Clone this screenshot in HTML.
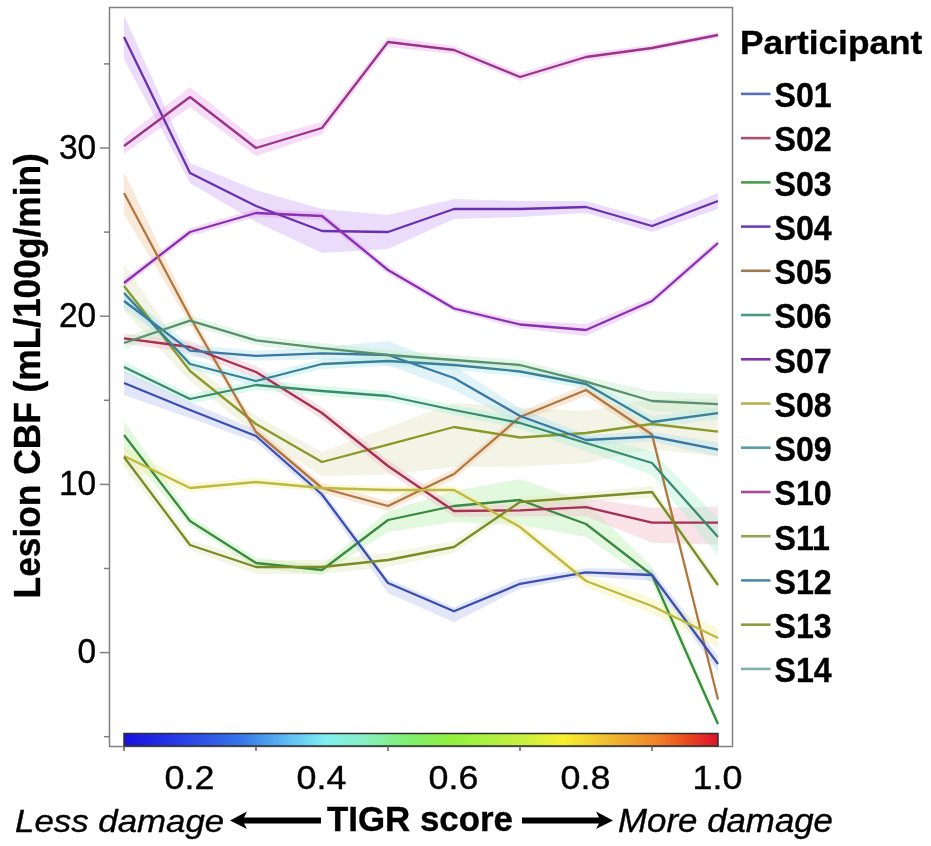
<!DOCTYPE html>
<html><head><meta charset="utf-8">
<style>
html,body{margin:0;padding:0;background:#fff;width:931px;height:846px;overflow:hidden}
svg{position:absolute;left:0;top:0;filter:blur(0.45px)}
text{font-family:"Liberation Sans",sans-serif;fill:#000;stroke:#000;stroke-width:0.35px}
.b{font-weight:bold}
.i{font-style:italic}
</style></head><body>
<svg width="931" height="846" viewBox="0 0 931 846">
<defs>
<linearGradient id="jet" x1="0" x2="1" y1="0" y2="0">
<stop offset="0" stop-color="#1810e0"/>
<stop offset="0.1" stop-color="#2840e8"/>
<stop offset="0.2" stop-color="#3878e8"/>
<stop offset="0.28" stop-color="#60c0f4"/>
<stop offset="0.34" stop-color="#80f0f0"/>
<stop offset="0.40" stop-color="#88f0c8"/>
<stop offset="0.47" stop-color="#80f078"/>
<stop offset="0.55" stop-color="#90f040"/>
<stop offset="0.67" stop-color="#c8f040"/>
<stop offset="0.74" stop-color="#f8f030"/>
<stop offset="0.81" stop-color="#f0c030"/>
<stop offset="0.90" stop-color="#f08028"/>
<stop offset="0.95" stop-color="#e84820"/>
<stop offset="1" stop-color="#e0102c"/>
</linearGradient>
<clipPath id="pc"><rect x="110" y="8" width="622" height="738"/></clipPath>
</defs>
<g clip-path="url(#pc)">
<polygon points="124,264.0 190,361.0 256,416.0 322,452.0 388,427.6 454,403.0 520,407.5 586,411.0 652,399.0 718,398.6 718,456.6 652,449.0 586,463.0 520,466.5 454,467.0 388,474.6 322,476.0 256,434.0 190,381.0 124,311.0" fill="#e0e0c0" fill-opacity="0.4"/>
<polygon points="124,421.0 190,516.0 256,558.0 322,565.0 388,511.0 454,491.0 520,479.0 586,502.0 652,567.0 718,719.0 718,729.0 652,583.0 586,537.0 520,525.0 454,522.0 388,532.0 322,575.0 256,568.0 190,526.0 124,449.0" fill="#b8f0b0" fill-opacity="0.4"/>
<polygon points="124,15.0 190,163.0 256,190.0 322,209.0 388,215.0 454,199.0 520,201.0 586,201.0 652,220.0 718,193.0 718,209.0 652,232.0 586,213.0 520,217.0 454,219.0 388,249.0 322,253.0 256,222.0 190,183.0 124,59.0" fill="#d0a8f4" fill-opacity="0.4"/>
<polygon points="124,138.0 190,87.0 256,140.0 322,122.0 388,37.0 454,46.0 520,73.0 586,53.0 652,45.0 718,32.0 718,38.0 652,51.0 586,61.0 520,81.0 454,54.0 388,47.0 322,134.0 256,156.0 190,107.0 124,154.0" fill="#e8a8e8" fill-opacity="0.4"/>
<polygon points="124,279.0 190,228.0 256,209.0 322,212.0 388,266.0 454,305.5 520,320.5 586,324.0 652,297.0 718,239.0 718,247.0 652,305.0 586,336.0 520,328.5 454,311.5 388,274.0 322,220.0 256,217.0 190,236.0 124,287.0" fill="#dca8f0" fill-opacity="0.4"/>
<polygon points="124,172.0 190,310.0 256,427.0 322,483.0 388,501.0 454,469.0 520,412.0 586,384.0 652,429.5 718,695.5 718,703.5 652,439.5 586,396.0 520,422.0 454,479.0 388,511.0 322,493.0 256,437.0 190,324.0 124,214.0" fill="#f0c8a0" fill-opacity="0.4"/>
<polygon points="124,371.0 190,402.0 256,430.0 322,489.5 388,579.0 454,607.3 520,578.8 586,568.3 652,569.0 718,656.0 718,672.0 652,581.0 586,576.3 520,588.8 454,622.3 388,593.0 322,499.5 256,442.0 190,418.0 124,395.0" fill="#b8c0f0" fill-opacity="0.4"/>
<polygon points="124,333.4 190,341.0 256,366.0 322,407.0 388,460.0 454,505.0 520,504.4 586,498.2 652,507.7 718,506.7 718,544.7 652,542.7 586,516.2 520,516.4 454,517.0 388,472.0 322,419.0 256,378.0 190,353.0 124,343.4" fill="#f0b8c8" fill-opacity="0.4"/>
<polygon points="124,446.0 190,483.0 256,478.0 322,484.0 388,486.0 454,486.0 520,522.0 586,575.0 652,598.0 718,628.0 718,648.0 652,614.0 586,587.0 520,532.0 454,494.0 388,494.0 322,492.0 256,486.0 190,493.0 124,466.0" fill="#f0f0a8" fill-opacity="0.4"/>
<polygon points="124,447.0 190,540.0 256,560.0 322,560.0 388,553.0 454,541.0 520,497.0 586,492.0 652,486.0 718,579.0 718,591.0 652,498.0 586,502.0 520,507.0 454,553.0 388,567.0 322,574.0 256,574.0 190,550.0 124,467.0" fill="#e0e8b8" fill-opacity="0.4"/>
<polygon points="124,361.0 190,394.0 256,380.0 322,386.0 388,391.0 454,405.0 520,417.0 586,435.0 652,451.0 718,518.0 718,556.0 652,475.0 586,451.0 520,429.0 454,415.0 388,401.0 322,396.0 256,390.0 190,404.0 124,373.0" fill="#b0f0d8" fill-opacity="0.4"/>
<polygon points="124,293.0 190,344.7 256,350.8 322,347.3 388,341.0 454,366.0 520,408.0 586,435.0 652,431.5 718,442.6 718,456.6 652,441.5 586,445.0 520,424.0 454,390.0 388,365.0 322,359.3 256,360.8 190,356.7 124,309.0" fill="#b0e0f0" fill-opacity="0.4"/>
<polygon points="124,285.0 190,359.0 256,376.0 322,359.0 388,356.0 454,360.0 520,366.5 586,379.0 652,416.0 718,407.2 718,419.2 652,428.0 586,389.0 520,376.5 454,370.0 388,366.0 322,369.0 256,386.0 190,369.0 124,301.0" fill="#b0e8e8" fill-opacity="0.4"/>
<polygon points="124,337.0 190,315.6 256,335.4 322,343.1 388,350.0 454,355.0 520,360.0 586,376.7 652,391.0 718,394.2 718,414.2 652,411.0 586,386.7 520,370.0 454,365.0 388,360.0 322,353.1 256,345.4 190,325.6 124,349.0" fill="#c0ecc8" fill-opacity="0.4"/>
<polyline points="124,286 190,371 256,424 322,462 388,444.6 454,427 520,437.5 586,433 652,424 718,431.6" fill="none" stroke="#8a9a28" stroke-width="2.3" stroke-linejoin="round"/>
<polyline points="124,435 190,521 256,563 322,570 388,520 454,506 520,500 586,524 652,575 718,724" fill="none" stroke="#3a8a40" stroke-width="2.3" stroke-linejoin="round"/>
<polyline points="124,37 190,173 256,206 322,231 388,232 454,209 520,209 586,207 652,226 718,201" fill="none" stroke="#6a30b0" stroke-width="2.3" stroke-linejoin="round"/>
<polyline points="124,146 190,97 256,148 322,128 388,42 454,50 520,77 586,57 652,48 718,35" fill="none" stroke="#9a3488" stroke-width="2.3" stroke-linejoin="round"/>
<polyline points="124,283 190,232 256,213 322,216 388,270 454,308.5 520,324.5 586,330 652,301 718,243" fill="none" stroke="#8a30b0" stroke-width="2.3" stroke-linejoin="round"/>
<polyline points="124,193 190,317 256,432 322,488 388,506 454,474 520,417 586,390 652,434.5 718,699.5" fill="none" stroke="#b07840" stroke-width="2.3" stroke-linejoin="round"/>
<polyline points="124,383 190,410 256,436 322,494.5 388,583 454,611.3 520,583.8 586,572.3 652,575 718,664" fill="none" stroke="#3a50b0" stroke-width="2.3" stroke-linejoin="round"/>
<polyline points="124,338.4 190,347 256,372 322,413 388,466 454,511 520,510.4 586,507.2 652,522.7 718,522.7" fill="none" stroke="#a83050" stroke-width="2.3" stroke-linejoin="round"/>
<polyline points="124,456 190,488 256,482 322,488 388,490 454,490 520,527 586,581 652,606 718,638" fill="none" stroke="#c0b840" stroke-width="2.3" stroke-linejoin="round"/>
<polyline points="124,457 190,545 256,567 322,567 388,560 454,547 520,502 586,497 652,492 718,585" fill="none" stroke="#7a8a28" stroke-width="2.3" stroke-linejoin="round"/>
<polyline points="124,367 190,399 256,385 322,391 388,396 454,410 520,423 586,443 652,463 718,537" fill="none" stroke="#3a8a70" stroke-width="2.3" stroke-linejoin="round"/>
<polyline points="124,301 190,350.7 256,355.8 322,353.3 388,355 454,378 520,416 586,440 652,436.5 718,449.6" fill="none" stroke="#3a78a0" stroke-width="2.3" stroke-linejoin="round"/>
<polyline points="124,293 190,364 256,381 322,364 388,361 454,365 520,371.5 586,384 652,422 718,413.2" fill="none" stroke="#3a8098" stroke-width="2.3" stroke-linejoin="round"/>
<polyline points="124,343 190,320.6 256,340.4 322,348.1 388,355 454,360 520,365 586,381.7 652,401 718,404.2" fill="none" stroke="#5a9070" stroke-width="2.3" stroke-linejoin="round"/>
</g>
<rect x="109.5" y="7.5" width="623" height="739" fill="none" stroke="#808080" stroke-width="1.5"/>
<rect x="124" y="733.5" width="594" height="12.5" fill="url(#jet)" stroke="#303030" stroke-width="1.5"/>
<line x1="100" y1="148.0" x2="109.5" y2="148.0" stroke="#808080" stroke-width="1.5"/>
<text transform="translate(96.2,158.60) scale(0.986,1.052)" text-anchor="end" font-size="34">30</text>
<line x1="100" y1="316.2" x2="109.5" y2="316.2" stroke="#808080" stroke-width="1.5"/>
<text transform="translate(96.2,326.80) scale(0.986,1.052)" text-anchor="end" font-size="34">20</text>
<line x1="100" y1="484.4" x2="109.5" y2="484.4" stroke="#808080" stroke-width="1.5"/>
<text transform="translate(96.2,495.00) scale(0.986,1.052)" text-anchor="end" font-size="34">10</text>
<line x1="100" y1="652.6" x2="109.5" y2="652.6" stroke="#808080" stroke-width="1.5"/>
<text transform="translate(96.2,663.20) scale(0.986,1.052)" text-anchor="end" font-size="34">0</text>
<line x1="104" y1="63.9" x2="109.5" y2="63.9" stroke="#808080" stroke-width="1.5"/>
<line x1="104" y1="232.1" x2="109.5" y2="232.1" stroke="#808080" stroke-width="1.5"/>
<line x1="104" y1="400.3" x2="109.5" y2="400.3" stroke="#808080" stroke-width="1.5"/>
<line x1="104" y1="568.5" x2="109.5" y2="568.5" stroke="#808080" stroke-width="1.5"/>
<line x1="104" y1="736.7" x2="109.5" y2="736.7" stroke="#808080" stroke-width="1.5"/>
<line x1="124" y1="746" x2="124" y2="751" stroke="#606060" stroke-width="1.5"/>
<line x1="256" y1="746" x2="256" y2="751" stroke="#606060" stroke-width="1.5"/>
<line x1="388" y1="746" x2="388" y2="751" stroke="#606060" stroke-width="1.5"/>
<line x1="520" y1="746" x2="520" y2="751" stroke="#606060" stroke-width="1.5"/>
<line x1="652" y1="746" x2="652" y2="751" stroke="#606060" stroke-width="1.5"/>
<text transform="translate(189.5,788.6) scale(1.086,1.026)" text-anchor="middle" font-size="33">0.2</text>
<text transform="translate(321.5,788.6) scale(1.086,1.026)" text-anchor="middle" font-size="33">0.4</text>
<text transform="translate(453.5,788.6) scale(1.086,1.026)" text-anchor="middle" font-size="33">0.6</text>
<text transform="translate(585.5,788.6) scale(1.086,1.026)" text-anchor="middle" font-size="33">0.8</text>
<text transform="translate(717.5,788.6) scale(1.086,1.026)" text-anchor="middle" font-size="33">1.0</text>
<text x="0" y="0" class="b" font-size="35.3" transform="translate(40,598.4) rotate(-90) scale(1,1.03)">Lesion CBF (mL/100g/min)</text>
<text transform="translate(740.1,53.8) scale(1.069,0.99)" class="b" font-size="33">Participant</text>
<line x1="741" y1="93.9" x2="770.5" y2="93.9" stroke="#5570b8" stroke-width="2.6"/>
<text transform="translate(774.5,107.20) scale(0.974,1.074)" class="b" font-size="33">S01</text>
<line x1="741" y1="138.1" x2="770.5" y2="138.1" stroke="#a85070" stroke-width="2.6"/>
<text transform="translate(774.5,151.43) scale(0.974,1.074)" class="b" font-size="33">S02</text>
<line x1="741" y1="182.4" x2="770.5" y2="182.4" stroke="#4a9a50" stroke-width="2.6"/>
<text transform="translate(774.5,195.66) scale(0.974,1.074)" class="b" font-size="33">S03</text>
<line x1="741" y1="226.6" x2="770.5" y2="226.6" stroke="#7040b8" stroke-width="2.6"/>
<text transform="translate(774.5,239.89) scale(0.974,1.074)" class="b" font-size="33">S04</text>
<line x1="741" y1="270.8" x2="770.5" y2="270.8" stroke="#a07850" stroke-width="2.6"/>
<text transform="translate(774.5,284.12) scale(0.974,1.074)" class="b" font-size="33">S05</text>
<line x1="741" y1="315.0" x2="770.5" y2="315.0" stroke="#4a9a80" stroke-width="2.6"/>
<text transform="translate(774.5,328.35) scale(0.974,1.074)" class="b" font-size="33">S06</text>
<line x1="741" y1="359.3" x2="770.5" y2="359.3" stroke="#8030a8" stroke-width="2.6"/>
<text transform="translate(774.5,372.58) scale(0.974,1.074)" class="b" font-size="33">S07</text>
<line x1="741" y1="403.5" x2="770.5" y2="403.5" stroke="#b8b050" stroke-width="2.6"/>
<text transform="translate(774.5,416.81) scale(0.974,1.074)" class="b" font-size="33">S08</text>
<line x1="741" y1="447.7" x2="770.5" y2="447.7" stroke="#5a9aa8" stroke-width="2.6"/>
<text transform="translate(774.5,461.04) scale(0.974,1.074)" class="b" font-size="33">S09</text>
<line x1="741" y1="492.0" x2="770.5" y2="492.0" stroke="#a84898" stroke-width="2.6"/>
<text transform="translate(774.5,505.27) scale(0.974,1.074)" class="b" font-size="33">S10</text>
<line x1="741" y1="536.2" x2="770.5" y2="536.2" stroke="#98a050" stroke-width="2.6"/>
<text transform="translate(774.5,549.50) scale(0.974,1.074)" class="b" font-size="33">S11</text>
<line x1="741" y1="580.4" x2="770.5" y2="580.4" stroke="#4a8aa8" stroke-width="2.6"/>
<text transform="translate(774.5,593.73) scale(0.974,1.074)" class="b" font-size="33">S12</text>
<line x1="741" y1="624.7" x2="770.5" y2="624.7" stroke="#8a9a40" stroke-width="2.6"/>
<text transform="translate(774.5,637.96) scale(0.974,1.074)" class="b" font-size="33">S13</text>
<line x1="741" y1="668.9" x2="770.5" y2="668.9" stroke="#80b0a8" stroke-width="2.6"/>
<text transform="translate(774.5,682.19) scale(0.974,1.074)" class="b" font-size="33">S14</text>
<text transform="translate(15.1,832) scale(1.124,1.03)" class="i" font-size="31">Less damage</text>
<text transform="translate(327,831.3) scale(1.057,1.07)" class="b" font-size="33">TIGR score</text>
<text transform="translate(618.1,831.9) scale(1.124,1.047)" class="i" font-size="31">More damage</text>
<path d="M230,820.5 L247,811.5 L244,817.5 L321,817.5 L321,823.5 L244,823.5 L247,829 Z" fill="#000"/>
<path d="M613,820.5 L596,811.5 L599,817.5 L522,817.5 L522,823.5 L599,823.5 L596,829 Z" fill="#000"/>
</svg>
</body></html>
